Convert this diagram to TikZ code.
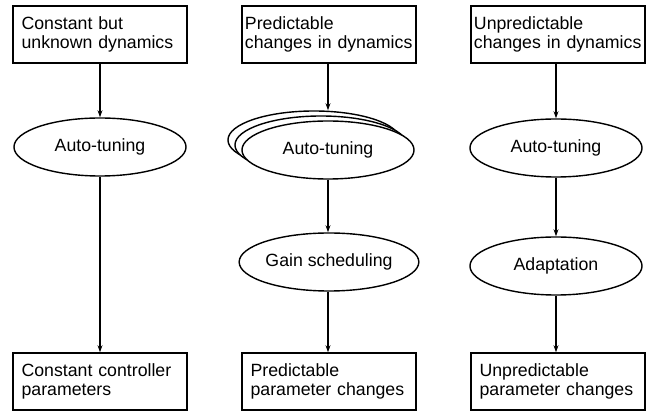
\documentclass[tikz,border=0pt]{standalone}
\usepackage{fontspec}
\setmainfont{Liberation Sans}
\usetikzlibrary{shapes.geometric}
\usetikzlibrary{arrows.meta}

\begin{document}
\begin{tikzpicture}[
    x=0.025cm, y=-0.025cm,
    every node/.style={font=\fontsize{12.6}{13.6}\selectfont, line width=1pt},
    box/.style={rectangle, draw, align=left, text width=4.2cm, inner xsep=0.075cm,
      minimum height=1.425cm},
    inset/.style={text width=3.92cm, inner xsep=0.215cm},
    task/.style={ellipse, draw, fill=white, minimum width=4.3cm, minimum height=1.45cm,
      inner sep=0pt},
    flow/.style={line width=1pt, -{Stealth[length=5pt, width=3.5pt]}},
  ]

  \useasboundingbox (0,0) rectangle (647,412);

  \node[box, inset] (cst)  at (100, 34.5)  {Constant but\\unknown dynamics};
  \node[box] (pred) at (329, 34.5)  {Predictable\\changes in dynamics};
  \node[box] (unp)  at (558, 34.5)  {Unpredictable\\changes in dynamics};

  \node[task] (at1) at (100, 147) {Auto-tuning};
  \node[task] (bk2) at (314, 140) {};
  \node[task] (bk1) at (321, 145) {};
  \node[task] (at2) at (328, 150) {Auto-tuning};
  \node[task] (at3) at (556, 148) {Auto-tuning};

  \node[task] (gain)  at (329, 262) {Gain scheduling};
  \node[task] (adapt) at (556, 266) {Adaptation};

  \node[box, inset] (cpar) at (100, 381.5) {Constant controller\\parameters};
  \node[box, inset] (ppar) at (329, 381.5) {Predictable\\parameter changes};
  \node[box, inset] (upar) at (558, 381.5) {Unpredictable\\parameter changes};

  \draw[flow] (cst.south -| at1) -- (at1);
  \draw[flow] (at1) -- (at1 |- cpar.north);
  \draw[flow] (pred.south -| at2) -- (at2 |- bk2.north);
  \draw[flow] (at2) -- (at2 |- gain.north);
  \draw[flow] (at2 |- gain.south) -- (at2 |- ppar.north);
  \draw[flow] (unp.south -| at3) -- (at3);
  \draw[flow] (at3) -- (adapt);
  \draw[flow] (adapt) -- (adapt |- upar.north);

\end{tikzpicture}
\end{document}
